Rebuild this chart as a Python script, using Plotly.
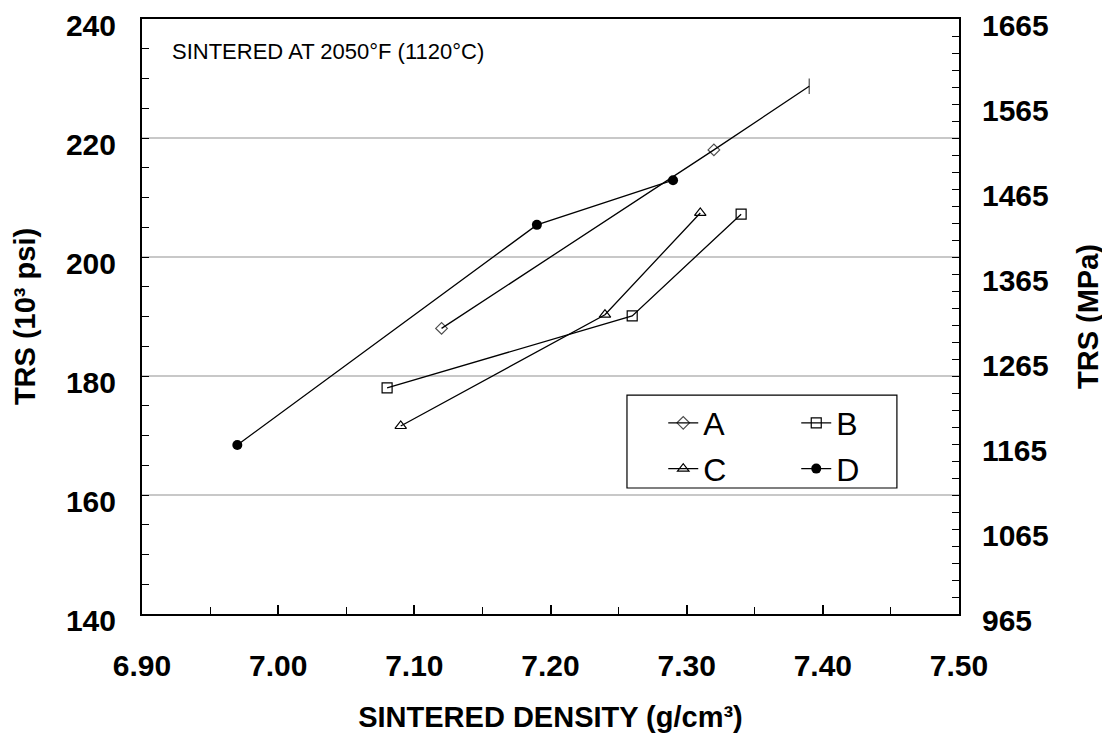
import plotly.graph_objects as go

# Data
a_x = [7.12, 7.32, 7.39]
a_y = [188.0, 218.0, 228.7]
b_x = [7.08, 7.26, 7.34]
b_y = [178.0, 190.1, 207.2]
c_x = [7.09, 7.24, 7.31]
c_y = [171.6, 190.3, 207.4]
d_x = [6.97, 7.19, 7.29]
d_y = [168.4, 205.4, 212.9]

x_ticks = [6.90, 7.00, 7.10, 7.20, 7.30, 7.40, 7.50]
y_ticks = [140, 160, 180, 200, 220, 240]
y2_ticks = [965, 1065, 1165, 1265, 1365, 1465, 1565, 1665]

FONT = "Liberation Sans, Arial, sans-serif"
line_style = dict(color="black", width=1.3)

fig = go.Figure()
fig.add_trace(go.Scatter(
    x=a_x, y=a_y, name="A", mode="lines+markers", line=line_style,
    marker=dict(symbol=["diamond-open", "diamond-open", "line-ns-open"],
                size=[9, 9, 11], color="black", line=dict(width=1.2)),
    legend="legend"))
fig.add_trace(go.Scatter(
    x=b_x, y=b_y, name="B", mode="lines+markers", line=line_style,
    marker=dict(symbol="square-open", size=10, color="black", line=dict(width=1.2)),
    legend="legend"))
fig.add_trace(go.Scatter(
    x=c_x, y=c_y, name="C", mode="lines+markers", line=line_style,
    marker=dict(symbol="triangle-up-open", size=10, color="black", line=dict(width=1.2)),
    legend="legend2"))
fig.add_trace(go.Scatter(
    x=d_x, y=d_y, name="D", mode="lines+markers", line=line_style,
    marker=dict(symbol="circle", size=10, color="black"),
    legend="legend2"))
# invisible trace to anchor the right (MPa) axis
fig.add_trace(go.Scatter(x=[x_ticks[0]], y=[y2_ticks[0]], yaxis="y2", mode="markers",
                         marker=dict(opacity=0), showlegend=False, hoverinfo="skip"))

legend_common = dict(
    orientation="h", xanchor="left", yanchor="middle",
    font=dict(family=FONT, size=32, color="black"),
    bgcolor="rgba(0,0,0,0)", borderwidth=0,
    entrywidth=88, entrywidthmode="pixels", itemwidth=30,
)

fig.update_layout(
    width=1110, height=739,
    margin=dict(l=134, r=159, t=11, b=133, autoexpand=False),
    paper_bgcolor="white", plot_bgcolor="white",
    font=dict(family=FONT, color="black"),
    showlegend=True,
    legend=dict(x=0.638, y=0.321, **legend_common),
    legend2=dict(x=0.638, y=0.244, **legend_common),
    xaxis=dict(
        range=[6.90, 7.50], tickvals=x_ticks, tickformat=".2f", automargin=False,
        showgrid=False, zeroline=False, ticklabeloverflow="allow",
        showline=True, linecolor="black", linewidth=2, mirror=True,
        ticks="inside", ticklen=9, tickwidth=1.5, tickcolor="black",
        minor=dict(dtick=0.05, ticks="inside", ticklen=7, tickwidth=1.2, tickcolor="black"),
        tickfont=dict(family=FONT, size=30, color="black", weight="bold"),
        ticklabelstandoff=24,
        title=dict(text="<b>SINTERED DENSITY (g/cm³)</b>", font=dict(family=FONT, size=29, color="black"),
                   standoff=26),
    ),
    yaxis=dict(
        range=[140, 240], tickvals=y_ticks, automargin=False, ticklabeloverflow="allow",
        showgrid=True, gridcolor="#c8c8c8", gridwidth=1.5, zeroline=False,
        showline=True, linecolor="black", linewidth=2, mirror=False,
        ticks="inside", ticklen=7, tickwidth=1.2, tickcolor="black",
        minor=dict(dtick=5, ticks="inside", ticklen=7, tickwidth=1.2, tickcolor="black", showgrid=False),
        tickfont=dict(family=FONT, size=30, color="black", weight="bold"),
        ticklabelstandoff=18, ticklabelshift=6,
        title=dict(text="<b>TRS (10³ psi)</b>", font=dict(family=FONT, size=29, color="black"),
                   standoff=22),
    ),
    yaxis2=dict(
        range=[965, 1665], tickvals=y2_ticks, overlaying="y", side="right", automargin=False,
        ticklabeloverflow="allow",
        showgrid=False, zeroline=False,
        showline=True, linecolor="black", linewidth=2,
        ticks="inside", ticklen=7, tickwidth=1.2, tickcolor="black",
        minor=dict(dtick=20, tick0=965, ticks="inside", ticklen=7, tickwidth=1.2, tickcolor="black", showgrid=False),
        tickfont=dict(family=FONT, size=30, color="black", weight="bold"),
        ticklabelstandoff=15, ticklabelshift=6,
        title=dict(text="<b>TRS (MPa)</b>", font=dict(family=FONT, size=29, color="black"),
                   standoff=30),
    ),
    shapes=[dict(type="rect", xref="paper", yref="paper",
                 x0=0.5936, x1=0.924, y0=0.2118, y1=0.368,
                 line=dict(color="black", width=1.2), fillcolor="rgba(0,0,0,0)")],
    annotations=[dict(text="SINTERED AT 2050°F (1120°C)", xref="paper", yref="paper",
                      x=0.0345, y=0.945, xanchor="left", yanchor="middle", showarrow=False,
                      font=dict(family=FONT, size=22, color="black"))],
)

fig.write_html("out.html")
